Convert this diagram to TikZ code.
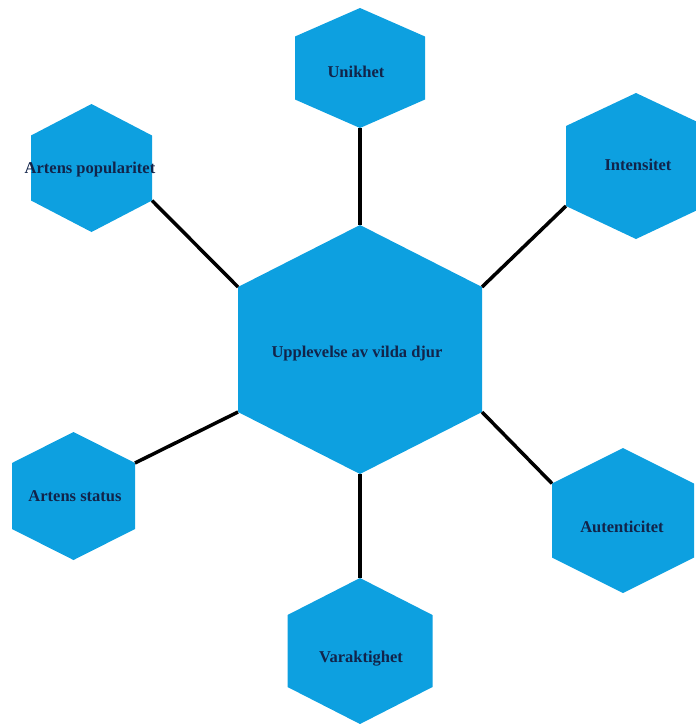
\documentclass[tikz,border=0pt]{standalone}
\usepackage{fontspec}
\setmainfont{Liberation Serif}
\definecolor{hexblue}{HTML}{0DA0E0}
\definecolor{hextext}{HTML}{12244A}
\tikzset{
  hexfill/.style={fill=hexblue, draw=none},
  hexlabel/.style={text=hextext, font=\bfseries\fontsize{16.5}{19}\selectfont, anchor=base, inner sep=0pt},
  link/.style={draw=black, line width=3.5pt}
}
% \hexa{name}{cx}{cy}{w}{h}{side offset}
\newcommand{\hexa}[6]{%
  \coordinate (#1-t)  at (#2, #3-#5/2);
  \coordinate (#1-tr) at (#2+#4/2, #3-#6);
  \coordinate (#1-br) at (#2+#4/2, #3+#6);
  \coordinate (#1-b)  at (#2, #3+#5/2);
  \coordinate (#1-bl) at (#2-#4/2, #3+#6);
  \coordinate (#1-tl) at (#2-#4/2, #3-#6);
  \fill[hexfill] (#1-t) -- (#1-tr) -- (#1-br) -- (#1-b) -- (#1-bl) -- (#1-tl) -- cycle;
}
\begin{document}
\begin{tikzpicture}[x=1pt, y=-1pt]
\useasboundingbox (0,0) rectangle (696,724);

\hexa{c}{360}{349.5}{244}{249}{62.5}
\hexa{u}{360}{68}{130}{120}{31.5}
\hexa{i}{636}{166}{140}{146}{40}
\hexa{p}{91.5}{168}{121}{128}{32.5}
\hexa{s}{73.5}{496}{123}{128}{33}
\hexa{a}{623}{520.5}{142}{145}{37}
\hexa{v}{360}{651}{145}{146}{36}

\draw[link] (u-b) -- (c-t);
\draw[link] (i-bl) -- (c-tr);
\draw[link] (p-br) -- (c-tl);
\draw[link] (s-tr) -- (c-bl);
\draw[link] (a-tl) -- (c-br);
\draw[link] (v-t) -- (c-b);

\node[hexlabel] (cl) at (357, 357.5) {Upplevelse av vilda djur};
\node[hexlabel] (ul) at (356, 77.5) {Unikhet};
\node[hexlabel] (il) at (638, 170.5) {Intensitet};
\node[hexlabel] (pl) at (90, 173.5) {Artens popularitet};
\node[hexlabel] (sl) at (75, 501.5) {Artens status};
\node[hexlabel] (al) at (622, 532.5) {Autenticitet};
\node[hexlabel] (vl) at (361, 662.5) {Varaktighet};
\end{tikzpicture}
\end{document}
